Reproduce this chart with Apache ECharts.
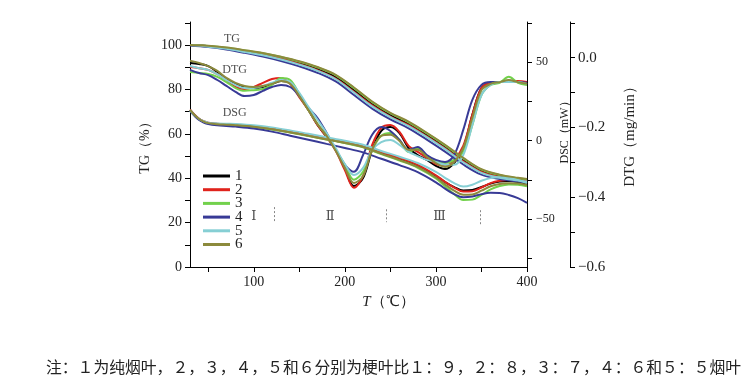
<!DOCTYPE html>
<html><head><meta charset="utf-8">
<script src="https://cdn.jsdelivr.net/npm/echarts@6/dist/echarts.min.js"></script>
<style>html,body{margin:0;padding:0;background:#fff}#c{width:755px;height:389px}</style>
</head><body><div id="c"></div>
<script>
// ---------- data ----------
const sampleNames = ['1','2','3','4','5','6'];
const sampleColors = ['#000000','#e0231c','#72d14c','#383a96','#86cfd4','#8c8a3c'];

// TG (%)
const tgX = [30,50,70,90,110,130,150,170,190,210,230,250,270,290,310,330,350,370,390,400];
const tg1 = [100.0,99.5,98.6,97.3,95.9,94.1,91.9,89.2,85.6,79.7,73.4,68.4,64.4,59.4,54.0,48.1,43.2,40.9,39.6,39.1];
const tg2 = [100.0,99.4,98.5,97.1,95.6,93.8,91.5,88.7,84.9,79.0,72.8,67.8,63.9,58.9,53.5,47.6,42.8,40.5,39.3,38.8];
const tg3 = [100.0,99.6,98.8,97.6,96.3,94.6,92.5,89.9,86.4,80.6,74.3,69.2,65.2,60.2,54.8,48.9,43.9,41.4,40.0,39.5];
const tg4 = [99.8,99.1,98.0,96.5,94.8,92.8,90.4,87.5,83.6,77.5,71.4,66.5,62.5,57.4,52.0,46.2,41.6,39.6,38.5,38.0];
const tg5 = [100.0,99.3,98.3,96.9,95.4,93.5,91.2,88.4,84.6,78.6,72.4,67.5,63.5,58.5,53.1,47.2,42.4,40.2,39.0,38.5];
const tg6 = [100.0,99.7,98.9,97.7,96.4,94.7,92.7,90.1,86.6,80.9,74.6,69.5,65.5,60.5,55.1,49.2,44.1,41.6,40.2,39.7];

// DTG (mg/min)
const dtgX = [30,40,50,60,70,80,90,100,110,120,130,140,150,160,170,180,190,200,210,220,230,240,250,260,270,280,290,300,310,320,330,340,350,360,370,380,390,400];
const dtg1 = [-0.015,-0.018,-0.024,-0.041,-0.061,-0.075,-0.084,-0.087,-0.084,-0.075,-0.067,-0.072,-0.110,-0.150,-0.193,-0.227,-0.264,-0.316,-0.368,-0.345,-0.264,-0.210,-0.199,-0.216,-0.259,-0.279,-0.293,-0.310,-0.319,-0.302,-0.259,-0.164,-0.087,-0.072,-0.070,-0.067,-0.070,-0.070];
const dtg2 = [-0.027,-0.030,-0.035,-0.047,-0.064,-0.084,-0.090,-0.084,-0.072,-0.061,-0.058,-0.075,-0.113,-0.150,-0.193,-0.227,-0.267,-0.322,-0.373,-0.339,-0.250,-0.201,-0.193,-0.213,-0.253,-0.270,-0.287,-0.305,-0.310,-0.293,-0.253,-0.164,-0.087,-0.072,-0.070,-0.067,-0.067,-0.070];
const dtg3 = [-0.041,-0.044,-0.047,-0.055,-0.070,-0.087,-0.095,-0.093,-0.090,-0.078,-0.058,-0.064,-0.104,-0.150,-0.190,-0.224,-0.264,-0.307,-0.350,-0.327,-0.264,-0.224,-0.216,-0.236,-0.270,-0.259,-0.282,-0.296,-0.302,-0.293,-0.270,-0.193,-0.107,-0.078,-0.072,-0.055,-0.072,-0.078];
const dtg4 = [-0.035,-0.044,-0.050,-0.064,-0.081,-0.098,-0.110,-0.107,-0.095,-0.084,-0.078,-0.084,-0.110,-0.144,-0.173,-0.216,-0.264,-0.307,-0.327,-0.279,-0.221,-0.199,-0.210,-0.236,-0.264,-0.256,-0.279,-0.293,-0.299,-0.279,-0.207,-0.121,-0.078,-0.070,-0.070,-0.067,-0.070,-0.072];
const dtg5 = [-0.024,-0.030,-0.035,-0.047,-0.064,-0.078,-0.087,-0.087,-0.081,-0.072,-0.064,-0.070,-0.101,-0.141,-0.178,-0.216,-0.259,-0.305,-0.336,-0.316,-0.264,-0.242,-0.236,-0.250,-0.270,-0.282,-0.293,-0.299,-0.307,-0.307,-0.279,-0.193,-0.107,-0.078,-0.070,-0.070,-0.070,-0.075];
const dtg6 = [-0.009,-0.015,-0.024,-0.038,-0.058,-0.072,-0.081,-0.084,-0.081,-0.075,-0.067,-0.075,-0.110,-0.150,-0.190,-0.224,-0.267,-0.316,-0.359,-0.339,-0.264,-0.224,-0.221,-0.239,-0.264,-0.264,-0.284,-0.302,-0.313,-0.299,-0.259,-0.173,-0.093,-0.075,-0.070,-0.064,-0.070,-0.075];

// DSC (mW)
const dscX = [30,35,40,45,50,60,70,80,100,120,140,160,180,200,220,240,260,280,300,310,320,330,340,350,360,370,380,390,400];
const dsc1 = [19.6,16.4,13.8,12.2,11.3,10.6,10.3,10.0,9.0,7.5,5.5,3.3,1.1,-1.1,-3.7,-7.8,-11.7,-16.1,-22.5,-26.3,-29.5,-31.7,-31.4,-29.5,-27.3,-26.0,-25.7,-26.3,-27.6];
const dsc2 = [19.8,16.6,14.0,12.4,11.5,10.8,10.5,10.2,9.3,7.9,5.9,3.8,1.6,-0.6,-3.2,-7.2,-11.0,-15.4,-22.0,-26.2,-29.8,-32.4,-32.2,-29.8,-27.0,-25.5,-25.0,-25.5,-26.6];
const dsc3 = [19.2,16.0,13.5,12.0,11.0,10.3,10.0,9.7,8.7,7.2,5.2,3.0,0.8,-1.5,-4.2,-8.5,-12.6,-17.2,-24.0,-29.0,-34.0,-37.8,-37.5,-34.5,-31.0,-28.8,-27.8,-28.0,-29.0];
const dsc4 = [19.0,15.8,13.2,11.6,10.6,9.8,9.4,9.0,7.8,5.8,3.2,0.6,-2.0,-4.6,-7.4,-11.5,-15.5,-20.0,-26.5,-30.5,-34.0,-36.0,-35.5,-34.0,-33.2,-33.3,-34.5,-36.5,-39.5];
const dsc5 = [19.4,16.3,13.9,12.4,11.5,11.0,10.8,10.6,9.8,8.5,6.6,4.4,2.2,0.0,-2.6,-6.5,-10.2,-14.2,-19.8,-23.6,-27.0,-29.2,-28.0,-25.5,-23.8,-23.3,-23.5,-25.0,-27.0];
const dsc6 = [19.6,16.4,13.8,12.2,11.2,10.5,10.2,9.9,8.9,7.3,5.3,3.1,0.8,-1.4,-4.0,-8.2,-12.2,-16.7,-23.4,-27.8,-31.8,-34.4,-34.2,-31.8,-29.0,-27.5,-27.0,-27.3,-28.2];

// axes ticks / labels
const xTicks = [50,100,150,200,250,300,350,400];
const xLabels = [100,200,300,400];
const tgTicks = [0,10,20,30,40,50,60,70,80,90,100,110];
const tgLabels = [0,20,40,60,80,100];
const dscTicks = [-75,-50,-25,0,25,50,75];
const dscLabels = [-50,0,50];
const dtgTicks = [-0.6,-0.5,-0.4,-0.3,-0.2,-0.1,0,0.1];
const dtgLabels = [-0.6,-0.4,-0.2,0];

// annotations
const curveLabels = ['TG','DTG','DSG'];
const curveLabelX = [76,79,79];
const curveLabelY = [103,89,69.3];
const stageNames = ['Ⅰ','Ⅱ','Ⅲ'];
const stageNameX = [100,184,304];
const stageNameY = [22.9,22.9,22.9];
const stageBounds = [122,245,349];
const stageBoundTop = [27,26,25.6];
const stageBoundBottom = [20.2,20.2,18.8];

const footnote = '注：１为纯烟叶，２，３，４，５和６分别为梗叶比１：９，２：８，３：７，４：６和５：５烟叶';

// ---------- chart ----------
const serif = '"Liberation Serif","Times New Roman",serif';
const pairs = (xs, ys) => xs.map((x, i) => [x, ys[i]]);
const minus = v => (v < 0 ? '\u2212' : '');

const groups = [
  {x: tgX, ys: [tg1,tg2,tg3,tg4,tg5,tg6], axis: 0},
  {x: dtgX, ys: [dtg1,dtg2,dtg3,dtg4,dtg5,dtg6], axis: 2},
  {x: dscX, ys: [dsc1,dsc2,dsc3,dsc4,dsc5,dsc6], axis: 1}
];
const series = [];
groups.forEach(g => {
  g.ys.forEach((ys, i) => {
    series.push({
      type: 'line', name: sampleNames[i], yAxisIndex: g.axis,
      data: pairs(g.x, ys), smooth: 0.35, symbol: 'none',
      lineStyle: {width: 2, color: sampleColors[i]},
      itemStyle: {color: sampleColors[i]}, z: 2 + i
    });
  });
});
series.push({
  type: 'scatter', yAxisIndex: 0, symbolSize: 0, silent: true,
  data: curveLabels.map((t, i) => [curveLabelX[i], curveLabelY[i], t]),
  label: {show: true, position: 'inside', formatter: p => p.data[2],
    fontFamily: serif, fontSize: 12, color: '#222'}
});
series.push({
  type: 'scatter', yAxisIndex: 0, symbolSize: 0, silent: true,
  data: stageNames.map((t, i) => [stageNameX[i], stageNameY[i], t]),
  label: {show: true, position: 'inside', formatter: p => p.data[2],
    fontFamily: '"DejaVu Serif",serif', fontSize: 13, color: '#222'},
  markLine: {
    silent: true, symbol: 'none', label: {show: false},
    lineStyle: {type: [2, 2], color: '#888', width: 1},
    data: stageBounds.map((b, i) => [{coord: [b, stageBoundTop[i]]}, {coord: [b, stageBoundBottom[i]]}])
  }
});

const axisCommon = {
  axisLine: {show: true, lineStyle: {color: '#000', width: 1}},
  splitLine: {show: false}
};

const option = {
  animation: false,
  backgroundColor: '#fff',
  grid: {left: 190, right: 228, top: 22, bottom: 122, containLabel: false},
  legend: {
    data: sampleNames.map(n => ({name: n, icon: 'rect'})), orient: 'vertical', left: 198, top: 163.5,
    itemWidth: 27, itemHeight: 3, itemGap: -1.3,
    textStyle: {fontFamily: serif, fontSize: 15, lineHeight: 13, color: '#222'},
    selectedMode: false
  },
  xAxis: Object.assign({}, axisCommon, {
    type: 'value', min: 30, max: 400,
    axisTick: {show: true, inside: false, length: 5, customValues: xTicks, lineStyle: {color: '#000'}},
    axisLabel: {customValues: xLabels, margin: 8, fontFamily: serif, fontSize: 14, color: '#222'},
    name: '{i|T}（℃）', nameLocation: 'middle', nameGap: 28,
    nameTextStyle: {fontFamily: serif, fontSize: 15, color: '#222', padding: [0,0,0,60],
      rich: {i: {fontStyle: 'italic', fontFamily: serif, fontSize: 15, color: '#222'}}}
  }),
  yAxis: [
    Object.assign({}, axisCommon, {
      type: 'value', position: 'left', min: 0, max: 110.4,
      axisTick: {show: true, length: 5, customValues: tgTicks, lineStyle: {color: '#000'}},
      axisLabel: {customValues: tgLabels, margin: 8, fontFamily: serif, fontSize: 14, color: '#222'},
      name: 'TG（%）', nameLocation: 'middle', nameGap: 38, nameRotate: 90,
      nameTextStyle: {fontFamily: serif, fontSize: 14, color: '#222'}
    }),
    Object.assign({}, axisCommon, {
      type: 'value', position: 'right', min: -80.4, max: 75.6,
      axisTick: {show: true, length: 5, customValues: dscTicks, lineStyle: {color: '#000'}},
      axisLabel: {customValues: dscLabels, margin: 9, fontFamily: serif, fontSize: 12, color: '#222',
        formatter: v => minus(v) + Math.abs(v)},
      name: 'DSC（mW）', nameLocation: 'middle', nameGap: 30, nameRotate: 90,
      nameTextStyle: {fontFamily: serif, fontSize: 12, color: '#222', padding: [0,0,0,30]}
    }),
    Object.assign({}, axisCommon, {
      type: 'value', position: 'right', offset: 43, min: -0.6, max: 0.1023,
      axisTick: {show: true, length: 5, customValues: dtgTicks, lineStyle: {color: '#000'}},
      axisLabel: {customValues: dtgLabels, margin: 8, fontFamily: serif, fontSize: 15, color: '#222',
        formatter: v => minus(v) + Math.abs(v).toFixed(1)},
      name: 'DTG（mg/min）', nameLocation: 'middle', nameGap: 53, nameRotate: 90,
      nameTextStyle: {fontFamily: serif, fontSize: 15, color: '#222', padding: [0,0,0,23]}
    })
  ],
  graphic: [{
    type: 'text', left: 46, top: 359,
    style: {text: footnote, font: '15.8px "Noto Sans CJK SC"', fill: '#222'}
  }],
  series: series
};
const chart = echarts.init(document.getElementById('c'), null, {renderer: 'canvas'});
chart.setOption(option);
</script></body></html>
